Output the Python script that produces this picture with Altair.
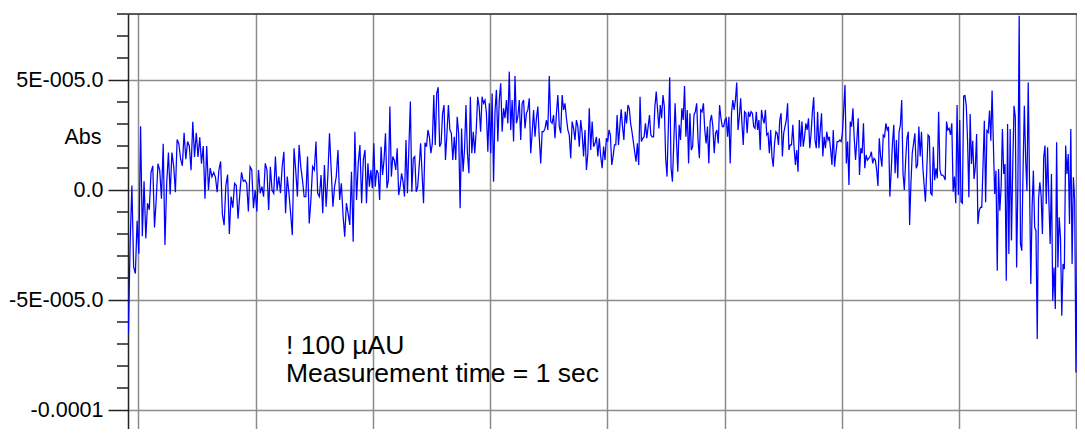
import altair as alt
import pandas as pd

# x extent of each stretch of the trace (grid units, one unit per vertical grid line)
SEG_X = [-0.0861, 0.9083, 1.9318, 2.9552, 3.9787, 5.0021, 6.0256, 7.0490, 8.0725]

# absorbance values in micro-AU (1E-6 AU)
S1 = [-65, -24, 2, -35, -38, -14, -29, 29, -21, 4, -22, -6, -9, 8, 11, -17, -4, 12, 9, -4,
      21, -25, 3, 17, -2, 17, 11, -1, 23, 21, 14, 11, 26, 14, 22, 20, 9, 31, 15, 26,
      15, 24, 12, 20, -4, 20, 0, 10, 6, 8, 6, -1, 9, 13, -11, -16, 2, 7, -20, -3,
      -8, 3, 2, -13, -2, 8, 4]
S2 = [4.5, 3, -9.8, 10.6, 9.1, -8.3, 0, -9.8, 9.1, -1.5, 1.5, -3, 12.1, 9.1, -9.1, 10.6, 0,
      -1.5, 15.2, 0, 6.1, -1.5, 10.6, 17.4, -10.6, 6.1, -1.5, -10.6, -20.5, 19, 9.1, -3, 20.5,
      10.6, 4.5, -3, -3, 15.2, -15.2, -4.5, 10.6, 9.1, 22, -1.5, -3, 6.8, -10.6, 11.4, -7.6,
      6.1, 25.8, 9.1, -7.6, 1.5, 6.1, 18.2, -4.5, 3, -11.4, -21.2, -6, -10.6, -15.9, 8.3,
      -23.5, 26.5, -4.5, 12.1, 20.5, -6, 13.6]
S3 = [18.2, -6, 12.1, 1.5, 9.1, 0.8, 21.2, 1.5, 9.1, 7.6, -4.5, 19.7, 6.8, 13.6, 25.8, 0.8,
      4.5, 37.9, 6.1, 15.2, 13.6, 9.1, 19, -2.3, 1.5, 7.6, 3.8, -3, 22.7, -1.5, 19.7, 40.2,
      -0.8, 14.4, 15.2, -0.8, 1.5, 10.6, 21.2, 7.6, -6, 21.5, 19.7, 27.3, 24.2, 16.7, 21.2,
      43.2, 20.5, 43.9, 46.7, 19.7, 21.2, 34.8, 38.6, 13.6, 25.8, 38.6, 27.3, 25.8, 13.6,
      24.2, 13.6, 33.3, 25.8, -8.3, 28, 8.3, 18.2, 38.6, 16.7, 7.6, 42.4, 16.7, 26.5, 16.7,
      27.3, 42.4, 37.9, 26.5, 42.4, 39.4]
S4 = [40.9, 34.9, 17.4, 39.4, 16.7, 43.9, 3.8, 35.6, 45.5, 22, 40.9, 48.5, 26.5, 37.1, 32.6,
      40.9, 30.3, 53.8, 27.3, 40.9, 22, 51.8, 30.3, 33.3, 40.9, 22.7, 39.4, 40.9, 28, 34.9,
      36.4, 41.7, 16.7, 25.8, 36.4, 24.2, 32.6, 37.9, 23.5, 12.1, 26.5, 26.5, 28, 31.8, 27.3,
      51.8, 31.1, 30.3, 34.1, 23.5, 34.9, 43.2, 28.8, 25.8, 43.2, 36.4, 39.4, 32.6, 27.3, 25,
      14.4, 31.1, 28, 22.7, 31.8, 28.8, 19.7, 31.8, 25.8, 15.2, 27.3, 9.1, 16.7, 37.1, 18.2,
      31.1, 19.7, 21.2, 24.2, 15.2, 23.5, 15.2, 9.9, 19.7]
S5 = [13.6, 23.5, 22, 27.3, 25, 11.4, 15.2, 20.5, 20.5, 34.1, 20.5, 28.8, 36.7, 28.8, 22.7,
      35.6, 30.3, 38.6, 37.1, 30.3, 26.5, 22, 17.4, 12.9, 21.2, 11.4, 42.4, 22, 23.5, 24.2,
      30.3, 23.5, 28.8, 34.1, 25, 24.2, 24.2, 37.9, 44.7, 36.4, 28, 38.6, 32.6, 43.2, 37.9,
      14.4, 6.1, 28.8, 51.2, 9.9, 3.8, 21.2, 39.4, 22.7, 8.3, 29.6, 22.7, 37.1, 31.8, 47.3,
      24.2, 36.4, 12.1, 34.9, 18.2, 19.7, 34.1, 35.6, 39.4, 22.7, 14.4, 36.4, 35.6, 39.4,
      27.3, 21.2, 28.8, 12.1, 31.1, 34.1, 28.8, 16.7, 25.8, 27.3, 21.2, 38.6, 32.6, 28.8, 28.8]
S6 = [31.8, 32.6, 24.2, 33.3, 12.1, 34.9, 40.9, 36.4, 40.9, 48.8, 27.3, 33.3, 41.7, 30.3, 20.5,
      35.6, 34.9, 25.8, 35.6, 33.3, 35.6, 34.9, 28.8, 28, 35.6, 27.3, 31.8, 18.2, 36.4, 32.6,
      30.3, 36.4, 25, 25.8, 16.7, 27.3, 15.2, 10.6, 21.2, 26.5, 25.8, 20.5, 31.8, 34.9, 15.2,
      25.8, 28.8, 31.8, 39.4, 18.2, 20.5, 20.5, 29.6, 19, 11.4, 18.2, 8.3, 31.8, 19.7, 31.1,
      19.7, 24.2, 30.3, 27.3, 32.6, 19, 25.8, 35.6, 42.1, 22.7, 19, 35.6, 19, 27.3, 34.9,
      15.2, 24.2, 19, 26.5, 22.7, 24.2, 18.2, 11.4, 27.3, 10.6, 16.7, 22, 22, 22.7, 22, 25.8,
      36.4]
S7 = [47.7, 12.1, 22, 2.3, 31.1, 28.8, 37.1, 23.5, 13.6, 22.7, 32.6, 6.8, 19, 16.7, 30.3, 9.9,
      15.9, 13.6, 14.4, 15.2, 17.4, 12.1, 14.4, 13.6, 9.1, 1.8, 23.5, 15.2, 10.6, 25, 24.2,
      30.3, 27.3, 28.8, -3, 8.3, 21.2, 29.6, 7.6, 22.7, 5.3, 26.5, 29.6, 40.9, 7.6, 0, 13.6,
      23.5, 26.5, -15.9, 3, 16.7, 21.2, 25.8, 9.9, 11.4, 28.8, 15.2, 26.5, 10.6, 2.3, -5.3,
      9.1, 25, 24.2, -1.5, -2.3, 19.7, 4.5, 9.9, 5.3, 35.6, 9.1, 6.8, 6.8, 6.1, 4.5, 31.1,
      27.3, 28, 25, 30.3, -0.8, 6.1, -6, 38.6, -2.3, 31.8, -5.3, -6, 42.7]
S8 = [42.9, 38.3, 22.4, -3.3, 34.5, 11.8, 22.4, 5, 10.3, 25.5, -15.5, -9.4, -7.9, -7.9, 11.8,
      31.5, -5.6, 27, 26.2, 36.1, 22.4, 45.2, 20.9, -1.8, 8.8, -36.7, 9.5, -9.4, 1.2, 27.7,
      7.3, 11.8, -41.2, 30, -29.1, 27.7, -23, 10.3, 38.3, 33, -35.2, 2.7, 79.2, -24.5, -27.6,
      9.5, 38.3, 14.1, -0.3, 48.9, 4.2, -42.7, -7.9, 8.8, -17, -18.5, -67.7, -4.1, 3.5, -2.6,
      -20, 14.8, 20.2, -6.4, 19.4, -4.8, -24.5, 7.3, -50.3, -35.2, -54.1, 21.7, -35.2, -12.4,
      -21.5, -57.1, -33.6, -35.9, 20.2, 7.3, 16.4, -15.5, 27.7, -33.6, 5.8, -4.8, -82.9, -26.1,
      46.7, -47.3, -7.9, 11.1, -88]
SEGMENTS = [S1, S2, S3, S4, S5, S6, S7, S8]

Y_DOMAIN = [-1.1227e-4, 8e-5]
X_DOMAIN = [-0.08955, 8.0725]
GRID_X = [0, 1, 2, 3, 4, 5, 6, 7, 8]
TICK_VALUES = [5e-5, 0.0, -5e-5, -1e-4]
TICK_LABELS = ["5E-005.0", "0.0", "-5E-005.0", "-0.0001"]
MINOR_TICKS = [7e-5, 6e-5, 4e-5, 3e-5, 2e-5, 1e-5, -1e-5, -2e-5, -3e-5, -4e-5,
               -6e-5, -7e-5, -8e-5, -9e-5, -1.1e-4]
ANNOT = ["! 100 \u00b5AU", "Measurement time = 1 sec"]
Y_TITLE = "Abs"

rows = []
for i, seg in enumerate(SEGMENTS):
    x0, x1 = SEG_X[i], SEG_X[i + 1]
    n = len(seg)
    for j, v in enumerate(seg):
        rows.append({"t": x0 + j * (x1 - x0) / n, "abs": v * 1e-6})
df = pd.DataFrame(rows)

label_expr = ""
for v, lab in zip(TICK_VALUES, TICK_LABELS):
    label_expr += f"round(datum.value*1e6) == {round(v * 1e6)} ? '{lab}' : "
label_expr += "''"

FONT = "Liberation Sans"
W, H = 957, 423

yscale = alt.Scale(domain=Y_DOMAIN, nice=False, zero=False)
xscale = alt.Scale(domain=X_DOMAIN, nice=False, zero=False)

line = alt.Chart(df).mark_line(color="#0000ff", strokeWidth=1.25, clip=True).encode(
    x=alt.X("t:Q", scale=xscale,
            axis=alt.Axis(values=GRID_X, labels=False, ticks=False, domain=False,
                          grid=True, gridColor="#8c8c8c", gridWidth=1.5, title=None)),
    y=alt.Y("abs:Q", scale=yscale,
            axis=alt.Axis(values=TICK_VALUES, labelExpr=label_expr, tickSize=20,
                          tickColor="#222222", tickWidth=1.5, domainColor="#222222",
                          domainWidth=1.5, labelPadding=5, labelFont=FONT,
                          labelFontSize=21.5, labelColor="#000000", grid=True,
                          gridColor="#8c8c8c", gridWidth=1.5, title=Y_TITLE,
                          titleAngle=0, titleX=-27, titleY=123, titleAlign="right",
                          titleBaseline="middle", titleFont=FONT, titleFontSize=21.5,
                          titleFontWeight="normal", titleColor="#000000")),
)

minor = alt.Chart(pd.DataFrame({"v": MINOR_TICKS})).mark_rule(
    color="#222222", strokeWidth=1.5).encode(
    y=alt.Y("v:Q", scale=yscale),
    x=alt.value(-11), x2=alt.value(0),
)

top = alt.Chart(pd.DataFrame({"a": [0]})).mark_rule(color="#222222", strokeWidth=1.5).encode(
    x=alt.value(-11), x2=alt.value(W + 5), y=alt.value(0)
)

t1 = alt.Chart(pd.DataFrame({"a": [0]})).mark_text(
    align="left", baseline="alphabetic", font=FONT, fontSize=26.5, color="#000000").encode(
    x=alt.value(158), y=alt.value(340), text=alt.value(ANNOT[0]))
t2 = alt.Chart(pd.DataFrame({"a": [0]})).mark_text(
    align="left", baseline="alphabetic", font=FONT, fontSize=26.5, color="#000000").encode(
    x=alt.value(158), y=alt.value(368), text=alt.value(ANNOT[1]))

chart = alt.layer(line, minor, top, t1, t2).properties(
    width=W, height=H,
    autosize=alt.AutoSizeParams(type="none"),
    padding={"left": 120, "top": 6, "right": -8, "bottom": -8},
    background="white",
).configure_view(strokeWidth=0)

chart.save("out.html", embed_options={"renderer": "svg", "actions": False})
